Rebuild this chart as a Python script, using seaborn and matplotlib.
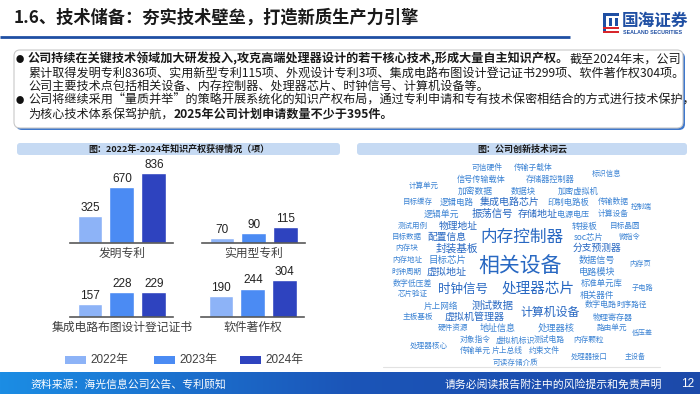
import numpy as np
import pandas as pd
import matplotlib
matplotlib.use('Agg')
import matplotlib.pyplot as plt
import seaborn as sns
from matplotlib.patches import FancyBboxPatch, Rectangle
from matplotlib.colors import LinearSegmentedColormap

# ---- data ----
years = ['2022年', '2023年', '2024年']
categories = ['发明专利', '实用型专利', '集成电路布图设计登记证书', '软件著作权']
values_2022 = [325, 70, 157, 190]
values_2023 = [670, 90, 228, 244]
values_2024 = [836, 115, 229, 304]
year_colors = ['#8DB3F7', '#4B8BF3', '#2E43BF']

cloud_words = [
    '可信硬件', '传输子载体', '标识信息', '信号传输载体', '存储器控制器', '计算单元',
    '加密数据', '数据块', '加密虚拟机', '目标缓存', '逻辑电路', '集成电路芯片',
    '印制电路板', '传输数据', '控制端', '逻辑单元', '振荡信号', '存储地址',
    '电源电压', '计算设备', '测试用例', '物理地址', '转接板', '目标晶圆',
    '目标数据', '配置信息', '内存控制器', 'soc芯片', '微指令', '内存块',
    '封装基板', '分支预测器', '内存地址', '目标芯片', '数据信号', '内存页',
    '相关设备', '时钟周期', '虚拟地址', '电路模块', '数字低压差', '标准单元库',
    '时钟信号', '处理器芯片', '子电路', '芯片验证', '相关器件', '片上网络',
    '测试数据', '数字电路', '时序路径', '计算机设备', '主板基板', '虚拟机管理器',
    '物理寄存器', '硬件资源', '地址信息', '处理器核', '路由单元', '低压差',
    '处理器核心', '对象指令', '虚拟机标识', '测试电路', '内存颗粒', '传输单元',
    '片上总线', '约束文件', '处理器接口', '主设备', '可读存储介质',
]
# relative word frequency (drawn as font size)
cloud_weights = [
    5.6, 5.6, 5.3, 5.9, 5.9, 5.4,
    6.3, 6.0, 5.9, 5.4, 6.1, 7.2,
    6.0, 5.6, 5.0, 6.4, 7.5, 7.2,
    5.8, 5.6, 5.4, 7.0, 6.2, 5.5,
    5.4, 7.0, 12.0, 6.0, 5.2, 5.5,
    7.7, 7.0, 5.4, 6.8, 6.6, 5.2,
    15.0, 5.4, 7.2, 6.6, 5.7, 6.0,
    9.0, 10.5, 5.2, 5.4, 6.2, 6.2,
    7.6, 5.8, 5.5, 8.6, 5.5, 7.2,
    5.8, 5.5, 6.5, 6.7, 5.5, 5.0,
    5.5, 5.6, 5.7, 5.6, 5.5, 5.6,
    5.6, 5.6, 5.3, 5.0, 5.5,
]

# ---- layout (pixels, top-left origin) ----
cloud_xy = [
    (487, 168), (533, 168), (607, 174), (481, 179), (550, 179), (424, 186),
    (475, 191), (523, 191), (578, 191), (418, 202), (457, 202), (510, 202),
    (568, 202), (613, 202), (641, 207), (441, 214), (492, 214), (538, 214),
    (573, 214), (613, 214), (413, 226), (458, 226), (585, 226), (625, 226),
    (407, 237), (447, 237), (522, 237), (589, 237), (630, 237), (407, 248),
    (457, 248), (597, 248), (407, 260), (447, 260), (597, 260), (640, 264),
    (520, 266), (406, 272), (447, 272), (597, 272), (412, 283), (602, 283),
    (463, 289), (538, 289), (642, 288), (413, 294), (597, 295), (441, 306),
    (493, 306), (601, 305), (632, 305), (550, 312), (418, 317), (475, 317),
    (613, 317), (453, 328), (498, 328), (556, 328), (612, 328), (642, 333),
    (429, 346), (475, 340), (515, 340), (549, 340), (589, 340), (475, 351),
    (507, 351), (544, 351), (589, 357), (635, 357), (515, 363),
]
panel_boxes = [(70, 160, 173, 243), (202, 160, 305, 243),
               (70, 265, 173, 317), (201, 265, 304, 317)]
panel_floor = [0, 48, 75, 38]
panel_px_per_unit = [0.0838, 0.233, 0.163, 0.138]

sns.set_theme(style='white')
plt.rcParams['font.family'] = ['Noto Sans CJK SC', 'DejaVu Sans']
num_font = ['Liberation Sans', 'Noto Sans CJK SC']

W, H = 700, 394
fig = plt.figure(figsize=(7, 3.94), dpi=100)
bg = fig.add_axes([0, 0, 1, 1])
bg.set_xlim(0, W)
bg.set_ylim(H, 0)
bg.axis('off')


def px_axes(x0, y0, x1, y1):
    return fig.add_axes([x0 / W, 1 - y1 / H, (x1 - x0) / W, (y1 - y0) / H])


def rich_line(x, y, parts, size=8.7):
    prev = None
    for txt, bold in parts:
        w = 'bold' if bold else 'normal'
        if prev is None:
            prev = bg.text(x, y, txt, fontsize=size, fontweight=w, color='#1a1a1a',
                           ha='left', va='center')
        else:
            prev = bg.annotate(txt, xy=(1, 0), xycoords=prev, fontsize=size, fontweight=w,
                               color='#1a1a1a', ha='left', va='bottom')


# title + logo
bg.text(14, 18, '1.6、技术储备：夯实技术壁垒，打造新质生产力引擎', fontsize=12.4,
        fontweight='bold', color='#1a1a1a', ha='left', va='center')
bg.plot([0, 570], [37, 37], color='#1F4FA3', lw=2, solid_capstyle='butt')
for (x0, y0, w, h, c) in [(603, 13, 16, 3, '#1F4FA3'), (603, 13, 3, 20, '#1F4FA3'),
                          (609, 18, 3, 8, '#1F4FA3'), (615, 18, 3, 8, '#1F4FA3'),
                          (603, 27, 16, 2, '#D8262C'), (603, 31, 16, 2, '#D8262C')]:
    bg.add_patch(Rectangle((x0, y0), w, h, fc=c, ec='none'))
bg.text(622, 21, '国海证券', fontsize=12, fontweight='bold', color='#1F4FA3', ha='left', va='center')
bg.text(623, 32, 'SEALAND SECURITIES', fontsize=3.8, fontweight='bold', color='#1F4FA3',
        ha='left', va='center', family=num_font)

# bullet box
bg.add_patch(FancyBboxPatch((16, 52), 669, 78, boxstyle='round,pad=0,rounding_size=6',
                            fc='#3F78CC', ec='none'))
bg.add_patch(FancyBboxPatch((14, 50), 669, 78, boxstyle='round,pad=0,rounding_size=6',
                            fc='white', ec='#C8C8C8', lw=0.8))
for yb in (59, 100):
    bg.text(20, yb, '●', fontsize=6, color='#111', ha='center', va='center')
rich_line(28, 59, [('公司持续在关键技术领域加大研发投入,攻克高端处理器设计的若干核心技术,形成大量自主知识产权。', True),
                   ('截至2024年末，公司', False)])
rich_line(28, 73, [('累计取得发明专利836项、实用新型专利115项、外观设计专利3项、集成电路布图设计登记证书299项、软件著作权304项。', False)])
rich_line(28, 86, [('公司主要技术点包括相关设备、内存控制器、处理器芯片、时钟信号、计算机设备等。', False)])
rich_line(28, 100, [('公司将继续采用“量质并举”的策略开展系统化的知识产权布局，通过专利申请和专有技术保密相结合的方式进行技术保护，', False)])
rich_line(28, 114, [('为核心技术体系保驾护航，', False), ('2025年公司计划申请数量不少于395件。', True)])

# section headers
for (x0, x1, label) in [(17, 340, '图：2022年-2024年知识产权获得情况（项）'),
                        (357, 687, '图：公司创新技术词云')]:
    bg.add_patch(FancyBboxPatch((x0, 143), x1 - x0, 12, boxstyle='round,pad=0,rounding_size=3',
                                fc='#C6DAF3', ec='none'))
    bg.text((x0 + x1) / 2, 149, label, fontsize=6.5, fontweight='bold', color='#1a1a1a',
            ha='center', va='center')

# bar panels
rows = []
for i, cat in enumerate(categories):
    for yr, vals in zip(years, [values_2022, values_2023, values_2024]):
        rows.append({'类别': cat, '年份': yr, '数量': vals[i]})
df = pd.DataFrame(rows)

for i, cat in enumerate(categories):
    box = panel_boxes[i]
    ax = px_axes(*box)
    sub = df[df['类别'] == cat]
    sns.barplot(data=sub, x='年份', y='数量', hue='年份', hue_order=years, order=years,
                palette=year_colors, width=0.78, saturation=1, legend=False, ax=ax)
    for cont in ax.containers:
        ax.bar_label(cont, padding=1.5, fontsize=8.5, color='#222222', family=num_font)
    height_px = box[3] - box[1]
    ax.set_ylim(panel_floor[i], panel_floor[i] + height_px / panel_px_per_unit[i])
    ax.set_xlim(-0.625, 2.6)
    ax.set_yticks([])
    ax.set_xticks([1])
    ax.set_xticklabels([cat])
    ax.tick_params(axis='x', length=0, pad=2.5, labelsize=8.5, labelcolor='#404040')
    ax.set_xlabel('')
    ax.set_ylabel('')
    for s in ['top', 'left', 'right']:
        ax.spines[s].set_visible(False)
    ax.spines['bottom'].set_color('#595959')
    ax.spines['bottom'].set_linewidth(1.2)
    ax.patch.set_alpha(0)

# legend
for (lx, yr, c) in zip([65, 154, 240], years, year_colors):
    bg.add_patch(Rectangle((lx, 356), 21, 8, fc=c, ec='none'))
    bg.text(lx + 25, 360, yr, fontsize=8.5, color='#404040', ha='left', va='center', family=num_font)

# word cloud
for w, s, (x, y) in zip(cloud_words, cloud_weights, cloud_xy):
    c = '#2868C2' if s >= 7 else '#3D84D4'
    bg.text(x, y, w, fontsize=s, color=c, ha='center', va='center')
bg.plot([383, 660], [367, 367], color='#E2E2E2', lw=0.8)

# footer
cmap = LinearSegmentedColormap.from_list('foot', ['#1C8DE4', '#1B55B8', '#1D4AAA'])
bg.imshow(np.linspace(0, 1, 256).reshape(1, -1), extent=(0, W, H, 372), aspect='auto', cmap=cmap)
bg.set_xlim(0, W)
bg.set_ylim(H, 0)
bg.text(30, 384, '资料来源：海光信息公司公告、专利顾知', fontsize=7.8, color='white', ha='left', va='center')
bg.text(662, 384, '请务必阅读报告附注中的风险提示和免责声明', fontsize=7.8, color='white', ha='right', va='center')
bg.text(688, 384, '12', fontsize=8.5, color='white', ha='center', va='center', family=num_font)

fig.savefig('out.png', dpi=100)
